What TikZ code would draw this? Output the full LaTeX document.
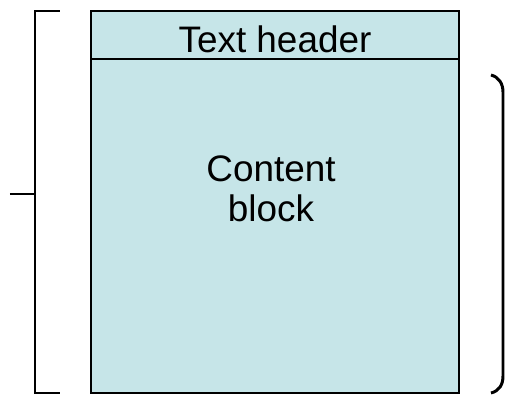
\documentclass[tikz,border=0pt]{standalone}
\usepackage{fontspec}
\setmainfont{Liberation Sans}
\definecolor{blockblue}{RGB}{198, 229, 232}

\begin{document}
\begin{tikzpicture}[
    x=0.02cm, y=-0.02cm,
    blockbox/.style={draw=black, line width=1.1pt, fill=blockblue},
    divider/.style={draw=black, line width=1.1pt},
    caption/.style={font=\fontsize{21}{22.8}\selectfont, align=center, inner sep=0pt},
    bracket/.style={draw=black, line width=1.7pt}
]
\useasboundingbox (0,0) rectangle (505,395);
% content block with its header
\draw[blockbox] (91,11) rectangle (459,393);
\coordinate (headleft) at (91,59);
\coordinate (headright) at (459,59);
\draw[divider] (headleft) -- (headright);
\node[caption, anchor=base] (header) at (275,53) {Text header};
\node[caption] (content) at (271,189) {Content\\block};
% left bracket
\coordinate (lefttop) at (60,11);
\coordinate (leftbottom) at (60,393);
\coordinate (leftmid) at (35,194);
\coordinate (lefttick) at (10,194);
\draw[bracket] (lefttop) -- (35,11) -- (35,393) -- (leftbottom);
\draw[bracket] (lefttick) -- (leftmid);
% right brace
\coordinate (righttop) at (491,75);
\coordinate (rightbottom) at (491,393);
\draw[bracket] (righttop) .. controls (499,77) and (503,84) .. (503,92)
    -- (503,376) .. controls (503,385) and (499,391) .. (rightbottom);
\end{tikzpicture}
\end{document}
